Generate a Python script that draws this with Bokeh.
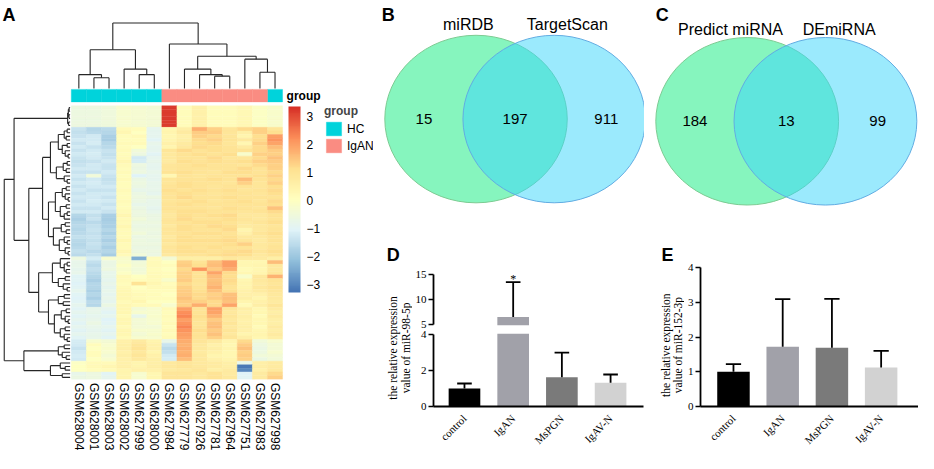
import numpy as np
from bokeh.plotting import figure
from bokeh.models import (Range1d, ColorBar, LinearColorMapper, FixedTicker, Legend,
                          LegendItem, ColumnDataSource, CustomJSTickFormatter)
from bokeh.layouts import row, column
from bokeh.embed import file_html
from bokeh.resources import INLINE
from bokeh.core.properties import value
from bokeh.transform import linear_cmap

SANS = "Liberation Sans"
SERIF = "Liberation Serif"

# ---------------- data: panel A ----------------
samples = ["GSM628004", "GSM628001", "GSM628003", "GSM628002", "GSM627999", "GSM628000",
           "GSM627984", "GSM627779", "GSM627926", "GSM627781", "GSM627964", "GSM627751",
           "GSM627983", "GSM627998"]
sample_group = ["HC", "HC", "HC", "HC", "HC", "HC", "IgAN", "IgAN", "IgAN", "IgAN", "IgAN",
                "IgAN", "IgAN", "HC"]
group_names = ["HC", "IgAN"]
group_colors = ["#00D3DB", "#FA8C82"]

expr = [
    [-0.6, -0.6, -0.55, -0.3, -0.35, -0.4, 3.2, 0.1, 0.55, 0.1, 0.1, 0.25, -0.1, -0.2],
    [-0.6, -0.6, -0.55, -0.3, -0.35, -0.4, 3.2, 0.1, 0.55, 0.1, 0.1, 0.25, -0.1, -0.2],
    [-0.6, -0.6, -0.55, -0.3, -0.35, -0.4, 3.2, 0.1, 0.55, 0.1, 0.1, 0.25, -0.1, -0.2],
    [-0.6, -0.6, -0.55, -0.3, -0.35, -0.4, 3.2, 0.1, 0.55, 0.1, 0.1, 0.25, -0.1, -0.2],
    [-0.6, -0.6, -0.55, -0.3, -0.35, -0.4, 3.2, 0.1, 0.55, 0.1, 0.1, 0.25, -0.1, -0.2],
    [-0.6, -0.6, -0.55, -0.3, -0.35, -0.4, 3.2, 0.1, 0.55, 0.1, 0.1, 0.25, -0.1, -0.2],
    [-1.4, -1.7, -1.6, 0.2, 0.1, -0.9, 0.3, 0.6, 1.8, 1.3, 0.9, 1.2, 1.3, 0.9],
    [-1.5, -1.6, -1.7, 0.3, 0.0, -0.9, 0.4, 0.7, 1.4, 1.4, 0.9, 0.6, 1.3, 1.1],
    [-1.4, -1.3, -1.8, 0.1, 0.2, -0.9, 0.3, 0.5, 1.3, 1.2, 0.9, 0.4, 1.1, 2.0],
    [-1.3, -1.3, -1.9, 0.1, 0.1, -1.0, 0.4, 0.6, 1.2, 1.3, 1.0, 0.8, 1.2, 2.1],
    [-1.4, -1.2, -1.7, 0.2, 0.2, -0.8, 0.5, 0.7, 1.1, 1.2, 0.9, 0.3, 1.3, 1.9],
    [-1.3, -1.4, -1.6, 0.1, 0.0, -0.9, 0.4, 0.8, 1.2, 1.1, 1.0, 0.7, 1.2, 1.6],
    [-1.4, -1.3, -1.4, 0.2, -0.5, -0.9, 0.9, 1.2, 1.0, 1.1, 1.0, 1.0, 1.2, 1.4],
    [-1.3, -1.2, -1.5, 0.1, -0.6, -1.0, 0.8, 1.0, 1.1, 1.0, 1.1, -0.2, 1.3, 1.3],
    [-1.4, -1.3, -1.4, 0.2, -1.3, -0.9, 0.8, 1.0, 1.0, 1.2, 0.9, 0.9, 1.2, 1.5],
    [-1.5, -1.4, -1.3, 0.3, -1.2, -0.8, 0.7, 1.1, 1.0, 1.1, 1.0, 1.1, 1.3, 1.4],
    [-1.4, -1.3, -1.4, 0.2, -0.6, -0.9, 0.9, 1.0, 1.1, 1.0, 1.0, 0.9, 1.2, 1.3],
    [-1.3, -1.3, -1.4, 0.1, -0.7, -0.9, 0.9, 1.0, 1.0, 1.0, 1.0, 1.2, 1.0, 1.3],
    [-1.4, -1.4, -1.3, 0.2, -0.6, -0.8, 1.0, 1.1, 1.0, 0.9, 1.1, 1.1, 1.0, 1.2],
    [-1.3, -0.5, -1.4, 0.1, -1.1, -0.9, 0.3, 1.0, 0.9, 1.0, 1.0, 1.0, 1.1, 1.3],
    [-1.4, -1.3, -1.5, 0.2, -0.7, -0.9, 0.9, 1.0, 1.0, 1.1, 1.0, 1.6, 1.0, 1.2],
    [-1.3, -1.2, -1.4, 0.1, -0.6, -0.8, 0.9, 1.1, 1.0, 1.0, 0.9, 1.3, 0.9, 1.3],
    [-1.4, -1.3, -1.3, 0.1, -0.7, -0.8, 1.0, 1.1, 1.0, 0.9, 1.0, 1.0, 0.9, 1.1],
    [-1.3, -1.4, -1.4, 0.2, -0.8, -0.8, 1.1, 1.0, 1.1, 1.0, 1.1, 0.9, 1.0, 1.2],
    [-1.4, -1.3, -1.3, 0.1, -0.7, -0.9, 1.0, 1.1, 1.0, 0.9, 1.0, 1.0, 0.9, 1.1],
    [-1.3, -1.3, -1.4, 0.1, -0.6, -0.7, 1.0, 1.2, 1.0, 1.0, 1.1, 1.0, 1.0, 1.0],
    [-1.4, -1.2, -1.3, 0.2, -0.7, -0.8, 0.9, 1.0, 1.1, 0.9, 1.0, 1.1, 0.9, 1.2],
    [-1.3, -1.3, -1.4, 0.1, -0.8, -0.8, 1.0, 1.1, 1.0, 1.0, 1.0, 1.0, 1.0, 1.1],
    [-1.4, -1.4, -1.3, 0.1, -0.7, -0.9, 1.0, 1.0, 1.0, 0.9, 1.1, 1.0, 0.9, 1.5],
    [-1.3, -1.3, -1.4, 0.2, -0.6, -0.8, 0.9, 1.1, 1.1, 1.0, 1.0, 0.9, 1.0, 1.2],
    [-1.7, -1.5, -1.8, 0.3, -0.6, -0.7, 0.8, 1.1, 1.0, 1.1, 1.2, 0.8, 0.8, 1.0],
    [-1.8, -1.4, -1.9, 0.2, -0.5, -0.7, 0.9, 1.2, 1.0, 1.0, 1.1, 0.9, 0.8, 1.0],
    [-1.7, -1.6, -1.8, 0.2, -0.6, -0.6, 0.9, 1.0, 1.1, 1.1, 1.0, 0.8, 0.9, 1.1],
    [-1.6, -1.5, -1.8, 0.3, -0.7, -0.7, 0.8, 1.1, 1.0, 1.2, 1.1, 0.7, 0.8, 0.9],
    [-1.7, -1.4, -1.7, 0.2, -0.6, -0.6, 0.9, 1.1, 1.0, 1.0, 1.2, 0.4, 0.8, 1.0],
    [-1.6, -1.5, -1.8, 0.2, -0.5, -0.7, 0.9, 1.0, 1.1, 1.1, 1.0, 0.5, 0.9, 1.1],
    [-1.5, -1.4, -1.7, 0.2, -0.7, -0.6, 0.8, 1.1, 1.0, 1.0, 1.1, 0.8, 0.8, 1.0],
    [-1.6, -1.5, -1.8, 0.3, -0.6, -0.7, 0.9, 1.1, 1.1, 1.1, 1.2, 0.9, 0.7, 1.0],
    [-1.7, -1.4, -1.7, 0.2, -0.6, -0.6, 0.8, 1.0, 1.0, 1.0, 1.1, 1.3, 0.8, 0.9],
    [-1.6, -1.5, -1.8, 0.2, -0.7, -0.7, 0.9, 1.1, 1.0, 1.1, 1.0, 1.0, 0.8, 1.0],
    [-1.5, -1.6, -1.7, 0.3, -0.6, -0.6, 0.9, 1.1, 1.1, 1.0, 1.1, 1.2, 0.9, 1.1],
    [-1.6, -1.5, -1.9, 0.2, -0.5, -0.7, 0.8, 1.0, 1.0, 1.1, 1.2, 1.1, 0.8, 1.0],
    [-0.6, -1.2, -0.3, -0.2, -2.4, 0.1, -0.4, 0.6, 0.6, 0.6, 0.8, 0.7, 0.7, 0.6],
    [-0.8, -1.5, -0.7, -0.2, -0.5, 0.2, 0.0, 1.3, 1.0, 1.5, 2.0, 0.3, 0.3, 1.6],
    [-0.8, -1.6, -0.7, -0.1, -0.4, 0.2, 0.1, 1.4, 1.1, 1.6, 2.0, 0.3, 0.4, 0.8],
    [-0.9, -1.5, -0.6, -0.2, -0.5, 0.1, 0.0, 1.2, 2.1, 1.4, 1.8, 0.2, 0.3, 0.8],
    [-0.8, -1.6, -0.8, -0.1, -0.4, 0.2, 0.1, 1.3, 1.0, 1.9, 1.2, 0.3, 0.4, 0.9],
    [-1.0, -1.7, -0.8, 0.2, 0.0, 0.2, 0.1, 1.3, 1.0, 1.6, 1.1, -0.2, 0.8, 1.7],
    [-1.0, -1.8, -0.9, 0.2, 0.1, 0.2, -0.2, 1.4, 1.0, 1.5, 1.2, 0.3, 0.8, 1.0],
    [-1.1, -1.7, -0.8, 0.1, 1.0, 0.3, 0.1, 1.2, 0.9, 1.6, 1.1, 0.4, 0.7, 0.9],
    [-1.0, -1.7, -0.9, 0.2, 0.0, 0.2, 0.2, 1.3, 1.0, 1.7, 1.0, 0.4, 0.8, 1.0],
    [-0.9, -1.8, -0.8, 0.3, 0.1, 0.1, 0.1, 1.4, 1.1, 1.5, 1.1, 0.5, 0.7, 0.9],
    [-1.0, -1.7, -0.9, 0.3, 0.2, 0.1, 0.0, 1.4, 1.2, 1.3, 1.5, 0.5, 0.5, 0.8],
    [-1.1, -1.8, -0.8, 0.3, 0.2, 0.1, 0.1, 1.5, 1.2, 1.4, 1.6, 0.6, 0.4, 0.8],
    [-1.0, -1.6, -0.9, 0.2, 0.3, 0.0, 0.0, 1.4, 1.3, 1.2, 1.5, 0.4, 0.5, 0.7],
    [-0.9, -1.7, -0.7, 0.3, 0.2, 0.2, -0.3, 1.3, 1.8, 1.2, 1.9, 0.2, 0.6, 0.9],
    [-1.0, -0.8, -0.9, 0.3, -0.4, -0.3, 0.2, 2.0, 1.0, 2.0, 0.9, 0.6, 0.3, 0.7],
    [-0.9, -0.8, -1.0, 0.3, -0.3, -0.3, 0.1, 2.2, 1.0, 1.9, 0.8, 0.5, 0.3, 0.6],
    [-1.0, -0.9, -0.9, 0.2, -0.8, -0.2, 0.2, 2.3, 1.1, 1.7, 0.9, 0.6, 0.2, 0.7],
    [-0.9, -0.8, -1.1, 0.3, -0.4, -0.3, 0.1, 2.0, 1.0, 1.4, 0.8, 0.5, 0.3, 0.6],
    [-1.0, -0.7, -1.0, 0.3, -0.4, -0.3, 0.2, 2.1, 0.9, 1.5, 0.9, 0.5, 0.3, 0.6],
    [-0.9, -0.8, -0.9, 0.2, -0.4, -0.4, 0.1, 2.3, 1.0, 1.6, 0.8, 0.6, 0.2, 0.7],
    [-1.0, -0.9, -1.0, 0.3, -0.3, -0.3, 0.2, 2.1, 1.1, 1.4, 0.9, 0.5, 0.3, 0.6],
    [-0.9, -0.8, -0.9, 0.3, -0.4, -0.2, 0.1, 2.0, 1.0, 1.5, 0.8, 0.4, 0.4, 0.7],
    [-1.0, -0.8, -1.0, 0.2, -0.3, -0.3, 0.2, 1.9, 1.0, 1.3, 0.9, 0.6, 0.3, 0.6],
    [-1.2, -0.3, -0.4, 0.5, 0.7, 0.4, -0.8, 1.8, 0.9, 0.7, 0.4, 1.2, -0.5, -0.3],
    [-1.3, 0.1, -0.3, 0.6, 0.9, 0.5, -1.4, 1.7, 0.8, 0.5, 0.3, 1.4, -0.6, -0.4],
    [-1.4, 0.0, -0.2, 0.6, 1.0, 0.5, -1.6, 1.8, 0.8, 0.6, 0.4, 1.5, -0.7, -0.4],
    [-1.3, 0.1, -0.3, 0.5, 0.8, 0.4, -1.5, 1.7, 0.7, 0.5, 0.3, 1.3, -0.6, -0.3],
    [-1.2, 0.1, -0.4, 0.6, 0.9, 0.5, -1.3, 1.8, 0.8, 0.4, 0.3, 1.4, -0.5, -0.4],
    [-1.3, 0.0, -0.3, 0.5, 0.8, 0.6, -1.2, 1.6, 0.8, 0.5, 0.4, 1.3, -0.7, -0.5],
    [-0.1, 0.2, 0.2, 0.5, 0.4, 0.6, 0.8, 0.9, 0.8, 0.7, 0.6, -0.8, 0.6, 0.7],
    [0.0, 0.2, 0.3, 0.5, 0.4, 0.6, 0.8, 0.9, 0.8, 0.7, 0.6, -3.2, 0.6, 0.7],
    [0.0, 0.1, 0.2, 0.4, 0.5, 0.5, 0.7, 0.8, 0.9, 0.6, 0.7, -3.0, 0.5, 0.8],
    [-0.8, -0.6, -1.0, 0.4, -0.3, 0.3, 0.9, 0.9, 0.8, 1.0, 0.7, -1.1, 0.7, 1.2],
    [-0.7, -0.6, -0.9, 0.4, -0.3, 0.3, 0.9, 0.9, 0.8, 1.0, 0.8, -1.0, 0.7, 1.3],
]

# dendrograms: [height, left, right], leaves are indices
col_tree = [67.7, [40, [14.3, 0, [11, 1, 2]], [20, 3, [14.3, 4, 5]]],
            [46, 6, [33.3, [20, 7, [14.3, 8, [12.7, 9, 10]]], [30.3, 11, [16.7, 12, 13]]]]]
row_T = [2.5, [1.8, [1, 0, 1], [1.2, 2, 3]], [1.5, 4, 5]]
row_C1a = [20, [12, [6, [3, 6, 7], [4, 8, 9]], [8, [3, 10, 11], [5, 12, [2, 13, 14]]]],
           [14, [7, [3, 15, 16], [4, 17, 18]], [6, 19, [3, 20, 21]]]]
row_C1b = [22, [15, [8, [4, 22, 23], [5, 24, [2, 25, 26]]], [10, [4, 27, 28], [6, [3, 29, 30], 31]]],
           [17, [9, [5, 32, 33], [4, 34, 35]], [11, [6, 36, [3, 37, 38]], [5, 39, [2, 40, 41]]]]]
row_C2a = [18, [10, 42, [6, [3, 43, 44], [4, 45, 46]]], [12, [5, 47, 48], [7, 49, [3, 50, 51]]]]
row_C2b = [22, [12, [6, 52, 53], [7, 54, 55]],
           [16, [9, [4, 56, 57], [5, 58, [2, 59, 60]]], [10, [5, 61, 62], [6, 63, [3, 64, 65]]]]]
row_B1 = [12, [6, 66, 67], [8, 68, [4, 69, 70]]]
row_B2 = [20, [10, 71, [5, 72, 73]], [8, 74, 75]]
row_tree = [67, [57, row_T, [42, [28, row_C1a, row_C1b], [32, row_C2a, row_C2b]]],
            [47, row_B1, row_B2]]

heat_anchors = ["#4575B4", "#91BFDB", "#E0F3F8", "#FFFFBF", "#FEE090", "#FC8D59", "#D73027"]
heat_low, heat_high = -3.3, 3.35
legend_ticks = [-3, -2, -1, 0, 1, 2, 3]

# ---------------- data: panels B, C ----------------
venn_B_sets = ["miRDB", "TargetScan"]
venn_B_counts = [15, 197, 911]
venn_C_sets = ["Predict miRNA", "DEmiRNA"]
venn_C_counts = [184, 13, 99]

# ---------------- data: panels D, E ----------------
bar_groups = ["control", "IgAN", "MsPGN", "IgAV-N"]
bar_colors = ["#000000", "#A1A1A9", "#7A7A7A", "#D2D2D2"]
d_mean = [1.0, 6.4, 1.62, 1.32]
d_sd = [0.28, 7.0, 1.38, 0.46]
d_sig = ["", "*", "", ""]
d_break = (4, 5)
e_mean = [1.0, 1.72, 1.69, 1.12]
e_sd = [0.22, 1.37, 1.41, 0.48]


def base_fig(**kw):
    p = figure(toolbar_location=None, output_backend="svg", outline_line_color=None,
               background_fill_color="white", border_fill_color="white", **kw)
    return p


def blank_fig(w, h, xr, yr, **kw):
    opts = dict(min_border=0)
    opts.update(kw)
    p = base_fig(width=w, height=h, x_range=xr, y_range=yr,
                 x_axis_location=None, y_axis_location=None, **opts)
    p.grid.visible = False
    return p


def label(p, x, y, text, font=SANS, size="12px", style="normal", align="left",
          baseline="middle", angle=0.0, y_offset=0):
    p.text(x=x, y=y, text=text, angle=angle, text_font=value(font), text_font_size=size,
           text_font_style=style, text_align=align, text_baseline=baseline,
           text_color="black", y_offset=y_offset)


def dendro(node, segs):
    if isinstance(node, int):
        return node + 0.5, 0.0
    h, l, r = node
    pl, hl = dendro(l, segs)
    pr, hr = dendro(r, segs)
    segs.append((pl, hl, pl, h))
    segs.append((pr, hr, pr, h))
    segs.append((pl, h, pr, h))
    return (pl + pr) / 2.0, h


# palette (pheatmap default: 100 colours from rev RdYlBu 7)
anch = np.array([[int(c[i:i + 2], 16) for i in (1, 3, 5)] for c in heat_anchors], float)
palette = []
for tt in np.linspace(0, len(heat_anchors) - 1, 100):
    i = min(int(tt), len(heat_anchors) - 2)
    f = tt - i
    cc = anch[i] * (1 - f) + anch[i + 1] * f
    palette.append("#%02x%02x%02x" % tuple(int(round(v)) for v in cc))

# ---------------- panel A ----------------
WA, HA = 373, 453
PXC, PXR = 15.09, 3.597
X0, Y0 = -4.692, -29.27


def XD(px):
    return X0 + px / PXC


def YD(py):
    return Y0 + py / PXR


pA = blank_fig(WA, HA, Range1d(X0, X0 + WA / PXC), Range1d(Y0 + HA / PXR, Y0))

hx, hy, hv = [], [], []
for r, vals in enumerate(expr):
    for c, v in enumerate(vals):
        hx.append(c + 0.5)
        hy.append(r + 0.5)
        hv.append(v)
hsrc = ColumnDataSource(dict(x=hx, y=hy, v=hv))
cmap = linear_cmap("v", palette, heat_low, heat_high)
pA.rect(x="x", y="y", width=1, height=1, source=hsrc, fill_color=cmap, line_color=cmap,
        line_width=0.4)

# column dendrogram
segs = []
dendro(col_tree, segs)
base_c = YD(87.9)
kc = 0.966 / PXR
pA.segment(x0=[s[0] for s in segs], y0=[base_c - s[1] * kc for s in segs],
           x1=[s[2] for s in segs], y1=[base_c - s[3] * kc for s in segs],
           line_color="#262626", line_width=1.1)

# row dendrogram
segs = []
dendro(row_tree, segs)
base_r = XD(69.6)
kr = 0.983 / PXC
pA.segment(x0=[base_r - s[1] * kr for s in segs], y0=[s[0] for s in segs],
           x1=[base_r - s[3] * kr for s in segs], y1=[s[2] for s in segs],
           line_color="#262626", line_width=1.1)

# annotation bar
ann_y = (YD(88.9) + YD(101.4)) / 2
ann_h = YD(101.4) - YD(88.9)
ann_renderers = []
for gname, gcol in zip(group_names, group_colors):
    xs = [i + 0.5 for i, g in enumerate(sample_group) if g == gname]
    rr = pA.rect(x=xs, y=ann_y, width=1.0, height=ann_h, fill_color=gcol, line_color=gcol,
                 line_width=0.4)
    ann_renderers.append(rr)

label(pA, [len(samples) + 4.0 / PXC], [ann_y], ["group"], style="bold")

# sample labels
label(pA, [i + 0.5 for i in range(len(samples))], [YD(382.5)] * len(samples), samples,
      angle=-np.pi / 2)

# letter
label(pA, [XD(2)], [YD(4.5)], ["A"], size="18px", style="bold", baseline="top")

# colour legend
mapper = LinearColorMapper(palette=palette, low=heat_low, high=heat_high)
cb = ColorBar(color_mapper=mapper, location=(288, 161), width=12, height=186, padding=0,
              ticker=FixedTicker(ticks=legend_ticks),
              formatter=CustomJSTickFormatter(code="return tick < 0 ? '\u2212' + Math.abs(tick) : String(tick);"),
              major_tick_line_color=None, minor_tick_line_color=None,
              major_label_text_font=SANS, major_label_text_font_size="12px",
              major_label_text_color="black", label_standoff=6, bar_line_color=None,
              background_fill_alpha=0, border_line_color=None)
pA.add_layout(cb, "center")

leg = Legend(items=[LegendItem(label=n, renderers=[r]) for n, r in zip(group_names, ann_renderers)],
             location=(324, 299), title="group", title_text_font=SANS,
             title_text_font_size="12px", title_text_font_style="bold", title_standoff=2,
             label_text_font=SANS, label_text_font_size="12px", label_text_color="black",
             glyph_width=19, glyph_height=17, label_height=17, label_standoff=4, spacing=0,
             padding=0, margin=0, background_fill_alpha=0, border_line_color=None)
pA.add_layout(leg, "center")

# ---------------- panels B, C (Venn) ----------------


def venn(w, x_lo, x_hi, letter, letter_x, cx, d, cy, rx, ry, sets, counts, name_x, name_y):
    p = blank_fig(w, 240, Range1d(x_lo, x_hi), Range1d(248.4, 0))
    p.ellipse(x=[cx, cx + d], y=[cy, cy], width=2 * rx, height=2 * ry,
              fill_color=["#0DEB7D", "#37D5FB"], fill_alpha=0.5,
              line_color=["#7CCB92", "#62ACE2"], line_width=1)
    num_x = [(cx - rx + cx + d - rx) / 2, cx + d / 2, (cx + rx + cx + d + rx) / 2]
    label(p, num_x, [cy] * 3, [str(c) for c in counts], size="15px", align="center")
    label(p, name_x, [name_y] * 2, sets, size="16px", align="center")
    label(p, [letter_x], [4.5], [letter], size="18px", style="bold", baseline="top")
    return p


pB = venn(271, 379.5, 655.2, "B", 388, 483.8, 79.5, 122.7, 92.8, 86.7, venn_B_sets,
          venn_B_counts, [476, 576.7], 25)
pC = venn(274, 655.2, 934.0, "C", 666.7, 759.7, 79.6, 125.0, 93.0, 86.7, venn_C_sets,
          venn_C_counts, [742.7, 853.3], 30)

# ---------------- panels D, E (bars) ----------------


def style_axes(p, yticks, ybounds, show_x):
    p.grid.visible = False
    p.yaxis.ticker = FixedTicker(ticks=yticks)
    p.yaxis.bounds = ybounds
    axes = list(p.yaxis) + (list(p.xaxis) if show_x else [])
    for ax in axes:
        ax.axis_line_color = "black"
        ax.axis_line_width = 1.8
        ax.minor_tick_line_color = None
        ax.major_label_text_font = SERIF
        ax.major_label_text_font_size = "11px"
        ax.major_label_text_color = "black"
    for ax in p.yaxis:
        ax.major_tick_line_color = "black"
        ax.major_tick_line_width = 1.5
        ax.major_tick_out = 5
        ax.major_tick_in = 0
        ax.major_label_standoff = 2
    if show_x:
        for ax in p.xaxis:
            ax.ticker = FixedTicker(ticks=list(range(len(bar_groups))))
            ax.major_label_overrides = {i: g for i, g in enumerate(bar_groups)}
            ax.major_tick_line_color = None
            ax.major_label_orientation = np.pi / 4
            ax.major_label_standoff = 4


def draw_bars(p, means, sds, width, cap, min_top=None):
    idx = list(range(len(means)))
    up = [m + s for m, s in zip(means, sds)]
    if min_top is not None:
        keep = [i for i in idx if up[i] > min_top]
    else:
        keep = idx
    bx = [idx[i] for i in keep if min_top is None or means[i] > min_top]
    bt = [means[i] for i in keep if min_top is None or means[i] > min_top]
    bc = [bar_colors[i] for i in keep if min_top is None or means[i] > min_top]
    p.vbar(x=bx, top=bt, bottom=0, width=width, fill_color=bc, line_color=None)
    ex = [idx[i] for i in keep]
    em = [means[i] for i in keep]
    eu = [up[i] for i in keep]
    p.segment(x0=ex, y0=em, x1=ex, y1=eu, line_color="black", line_width=1.8)
    p.segment(x0=[i - cap for i in ex], y0=eu, x1=[i + cap for i in ex], y1=eu,
              line_color="black", line_width=1.8)
    return idx, up


def title_fig(w, letter, letter_x, line1, line2, lx1, lx2, ly):
    # bottom border matches the bar plots in the same row (frames are aligned)
    p = blank_fig(w, 213, Range1d(0, w), Range1d(171, 0), min_border_bottom=42)
    label(p, [letter_x], [4.5], [letter], size="18px", style="bold", baseline="top")
    label(p, [lx1, lx2], [ly, ly], [line1, line2], font=SERIF, size="11.5px", align="center",
          angle=np.pi / 2)
    return p


tD = title_fig(39, "D", 13.3, "the relative expression", "value of miR-98-5p", 19.2, 32.0, 110.7)

pDu = base_fig(width=232, height=89, x_range=Range1d(-0.636, 3.676), y_range=Range1d(4.72, 21.75),
               min_border_left=21, min_border_right=1, min_border_top=0, min_border_bottom=4,
               x_axis_location=None)
style_axes(pDu, [5, 10, 15], (d_break[1], 15), False)
idx, up = draw_bars(pDu, d_mean, d_sd, 0.65, 0.15, min_top=d_break[1])
label(pDu, idx, up, d_sig, font=SERIF, size="12px", align="center", baseline="bottom",
      y_offset=3.5)

pDl = base_fig(width=232, height=124, x_range=Range1d(-0.636, 3.676), y_range=Range1d(0, 4.06),
               min_border_left=21, min_border_right=1, min_border_top=4, min_border_bottom=42)
style_axes(pDl, [0, 2, 4], (0, d_break[0]), True)
draw_bars(pDl, d_mean, d_sd, 0.65, 0.15)

tE = title_fig(40, "E", 17.0, "the relative expression", "value of miR-152-3p", 21.2, 33.3, 107.8)

pE = base_fig(width=234, height=213, x_range=Range1d(-0.67, 3.759), y_range=Range1d(0, 4.779),
              min_border_left=13, min_border_right=0, min_border_top=0, min_border_bottom=42)
style_axes(pE, [0, 1, 2, 3, 4], (0, 4), True)
draw_bars(pE, e_mean, e_sd, 0.66, 0.155)

right = column(row(pB, pC), row(tD, column(pDu, pDl), tE, pE))
layout = row(pA, right)

open("out.html", "w").write(file_html(layout, INLINE))
